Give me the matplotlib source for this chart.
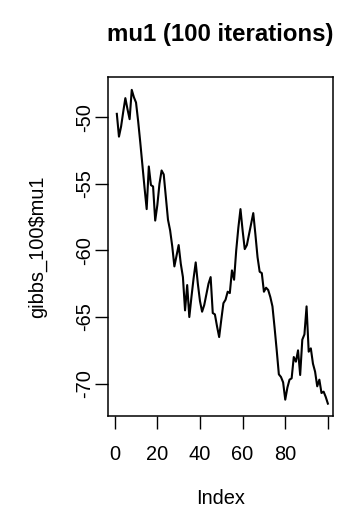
import matplotlib
matplotlib.use("Agg")
import matplotlib.pyplot as plt
import numpy as np

# Gibbs sampler trace for mu1, 100 iterations
mu1 = [
    -49.75, -51.46, -50.70, -49.60, -48.57, -49.40, -50.15, -47.95, -48.50, -48.90,
    -50.30, -51.90, -53.60, -55.30, -56.90, -53.70, -55.10, -55.20, -57.76, -56.60,
    -55.00, -54.00, -54.30, -56.00, -57.70, -58.50, -59.70, -61.20, -60.40, -59.60,
    -61.00, -62.00, -64.50, -62.60, -65.00, -63.50, -62.10, -60.90, -62.50, -63.80,
    -64.60, -64.10, -63.30, -62.50, -62.00, -64.70, -64.80, -65.70, -66.50, -65.20,
    -63.96, -63.70, -63.10, -63.20, -61.50, -62.20, -60.00, -58.30, -56.90, -58.50,
    -59.90, -59.60, -58.80, -58.00, -57.20, -58.80, -60.50, -61.60, -61.70, -63.10,
    -62.80, -62.97, -63.50, -64.20, -65.80, -67.50, -69.30, -69.50, -69.90, -71.20,
    -70.30, -69.70, -69.60, -68.00, -68.35, -67.50, -69.35, -66.70, -66.30, -64.20,
    -67.60, -67.35, -68.50, -69.10, -70.20, -69.70, -70.70, -70.60, -71.00, -71.50,
]
index = np.arange(1, len(mu1) + 1)

x_ticks = [0, 20, 40, 60, 80, 100]
x_tick_labels = ["0", "20", "40", "60", "80", ""]
y_ticks = [-50, -55, -60, -65, -70]

title = "mu1 (100 iterations)"
x_label = "Index"
y_label = "gibbs_100$mu1"

plt.rcParams["font.family"] = ["Liberation Sans", "DejaVu Sans"]

W, H = 343, 514
fig = plt.figure(figsize=(W / 100, H / 100), dpi=100)
left, right, top, bottom = 108.3, 333.0, 77.3, 416.2
ax = fig.add_axes([left / W, 1 - bottom / H, (right - left) / W, (bottom - top) / H])

ax.plot(index, mu1, color="black", linewidth=1.5, solid_joinstyle="round")

ax.set_xlim(-3.0, 102.4)
ax.margins(y=0.04)

ax.set_xticks(x_ticks)
ax.set_xticklabels(x_tick_labels)
ax.set_yticks(y_ticks)
ax.set_yticklabels([str(v) for v in y_ticks], rotation=90, va="center")

ax.tick_params(axis="both", length=9.4, width=1.0, labelsize=14.4, color="black")
ax.tick_params(axis="x", pad=11.5)
ax.tick_params(axis="y", pad=1.0)
for s in ax.spines.values():
    s.set_linewidth(1.1)

fig.text(0.5 * (left + right) / W, 1 - 34 / H, title, ha="center", va="center",
         fontsize=17.3, fontweight="bold")
ax.set_xlabel(x_label, fontsize=14.4)
ax.xaxis.set_label_coords(0.5, (bottom - 498) / (bottom - top))
ax.xaxis.label.set_va("center")
ax.set_ylabel(y_label, fontsize=14.4)
ax.yaxis.set_label_coords((37 - left) / (right - left), 0.5)
ax.yaxis.label.set_va("center")

fig.savefig("out.png", dpi=100)
